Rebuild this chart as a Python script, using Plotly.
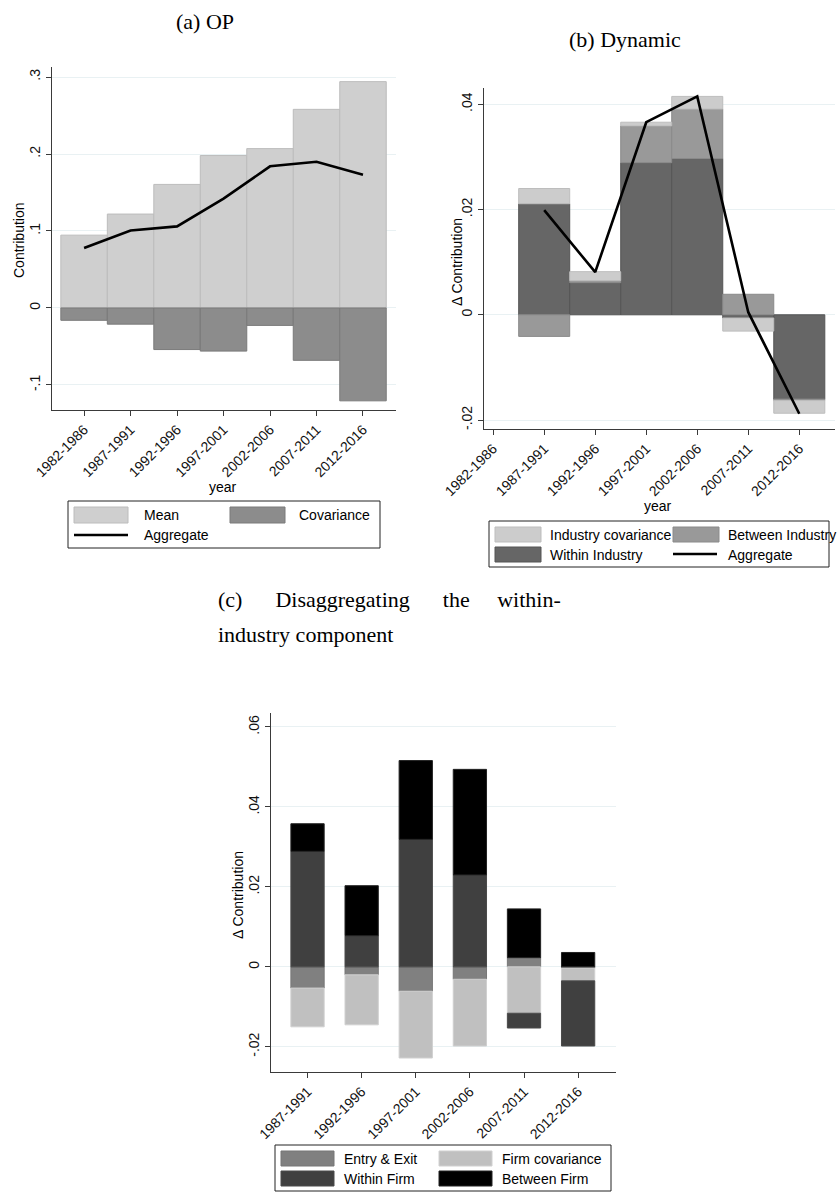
import plotly.graph_objects as go

# ---------------- data ----------------
years = ["1982-1986", "1987-1991", "1992-1996", "1997-2001", "2002-2006", "2007-2011", "2012-2016"]

# (a) OP
mean_a = [0.0946, 0.1220, 0.1605, 0.1980, 0.2070, 0.2580, 0.2940]
cov_a = [-0.0160, -0.0210, -0.0540, -0.0560, -0.0226, -0.0680, -0.1206]
agg_a = [0.0780, 0.1006, 0.1060, 0.1420, 0.1840, 0.1900, 0.1730]
ticks_a = [-0.1, 0, 0.1, 0.2, 0.3]
ticktext_a = ["-.1", "0", ".1", ".2", ".3"]

# (b) Dynamic
years_b = ["1987-1991", "1992-1996", "1997-2001", "2002-2006", "2007-2011", "2012-2016"]
within_b = [0.0211, 0.0061, 0.0289, 0.0297, -0.0006, -0.0160]
between_b = [-0.0041, 0.0004, 0.0070, 0.0094, 0.0039, -0.0003]
indcov_b = [0.0029, 0.0017, 0.0007, 0.0024, -0.0025, -0.0024]
agg_b = [0.0199, 0.0081, 0.0366, 0.0415, 0.0005, -0.0188]
ticks_b = [-0.02, 0, 0.02, 0.04]
ticktext_b = ["-.02", "0", ".02", ".04"]

# (c) Within-industry disaggregation
years_c = ["1987-1991", "1992-1996", "1997-2001", "2002-2006", "2007-2011", "2012-2016"]
entry_c = [-0.0053, -0.0020, -0.0061, -0.0031, 0.0023, -0.0003]
fcov_c = [-0.0097, -0.0125, -0.0167, -0.0167, -0.0116, -0.0032]
within_c = [0.0289, 0.0078, 0.0319, 0.0230, -0.0037, -0.0163]
between_c = [0.0069, 0.0125, 0.0197, 0.0264, 0.0122, 0.0036]
ticks_c = [-0.02, 0, 0.02, 0.04, 0.06]
ticktext_c = ["-.02", "0", ".02", ".04", ".06"]

names_a = ["Mean", "Covariance", "Aggregate"]
names_b = ["Industry covariance", "Between Industry", "Within Industry", "Aggregate"]
names_c = ["Entry & Exit", "Firm covariance", "Within Firm", "Between Firm"]

# ---------------- styling ----------------
W, H = 840, 1192
SANS = "Liberation Sans, Arial, sans-serif"
SERIF = "Liberation Serif, Times New Roman, serif"
GRID = "#e9f1f3"
AXC = "#3a3a3a"

C_MEAN, C_COV = "#cfcfcf", "#8c8c8c"
C_IC, C_BI, C_WI = "#cccccc", "#999999", "#666666"
C_EE, C_FC, C_WF, C_BF = "#808080", "#c0c0c0", "#404040", "#000000"


def px(x):
    return x / W


def py(y):
    return 1 - y / H


fig = go.Figure()

# (a)
fig.add_trace(go.Bar(x=years, y=mean_a, name=names_a[0], width=1, marker=dict(color=C_MEAN, line=dict(color="#bcbcbc", width=1)), xaxis="x", yaxis="y"))
fig.add_trace(go.Bar(x=years, y=cov_a, name=names_a[1], width=1, marker=dict(color=C_COV, line=dict(color="#7a7a7a", width=1)), xaxis="x", yaxis="y"))
fig.add_trace(go.Scatter(x=years, y=agg_a, name=names_a[2], mode="lines", line=dict(color="black", width=2.6), xaxis="x", yaxis="y"))

# (b)
fig.add_trace(go.Bar(x=years_b, y=within_b, name=names_b[2], width=1, marker=dict(color=C_WI, line=dict(color="#555555", width=1)), xaxis="x2", yaxis="y2"))
fig.add_trace(go.Bar(x=years_b, y=between_b, name=names_b[1], width=1, marker=dict(color=C_BI, line=dict(color="#8a8a8a", width=1)), xaxis="x2", yaxis="y2"))
fig.add_trace(go.Bar(x=years_b, y=indcov_b, name=names_b[0], width=1, marker=dict(color=C_IC, line=dict(color="#bdbdbd", width=1)), xaxis="x2", yaxis="y2"))
fig.add_trace(go.Scatter(x=years_b, y=agg_b, name=names_b[3], mode="lines", line=dict(color="black", width=2.6), xaxis="x2", yaxis="y2"))

# (c)
wc = 0.615
fig.add_trace(go.Bar(x=years_c, y=entry_c, name=names_c[0], width=wc, marker=dict(color=C_EE, line=dict(color="#777777", width=1)), xaxis="x3", yaxis="y3"))
fig.add_trace(go.Bar(x=years_c, y=fcov_c, name=names_c[1], width=wc, marker=dict(color=C_FC, line=dict(color="#d0d0d0", width=1)), xaxis="x3", yaxis="y3"))
fig.add_trace(go.Bar(x=years_c, y=within_c, name=names_c[2], width=wc, marker=dict(color=C_WF, line=dict(color="#4a4a4a", width=1)), xaxis="x3", yaxis="y3"))
fig.add_trace(go.Bar(x=years_c, y=between_c, name=names_c[3], width=wc, marker=dict(color=C_BF, line=dict(color="#222222", width=1)), xaxis="x3", yaxis="y3"))

xcommon = dict(type="category", categoryorder="array", showline=True, linecolor=AXC, linewidth=1,
               ticks="outside", ticklen=5, tickcolor=AXC, tickangle=-45, showgrid=False,
               automargin=False, tickfont=dict(family=SANS, size=14, color="#111"), fixedrange=True)
ycommon = dict(showline=True, linecolor=AXC, linewidth=1, ticks="outside", ticklen=5, tickcolor=AXC,
               tickangle=-90, showgrid=True, gridcolor=GRID, gridwidth=1, zeroline=False,
               automargin=False, tickfont=dict(family=SANS, size=14, color="#111"), tickmode="array",
               fixedrange=True)

fig.update_layout(
    width=W, height=H, margin=dict(l=0, r=0, t=0, b=0, autoexpand=False),
    paper_bgcolor="white", plot_bgcolor="white",
    barmode="relative", showlegend=False,
    xaxis=dict(xcommon, domain=[px(52), px(396)], categoryarray=years, range=[-0.69, 6.71], anchor="y"),
    yaxis=dict(ycommon, domain=[py(410), py(67)], range=[-0.1325, 0.313], tickvals=ticks_a, ticktext=ticktext_a, anchor="x"),
    xaxis2=dict(xcommon, domain=[px(484), px(835)], categoryarray=years, range=[-0.18, 6.7], anchor="y2"),
    yaxis2=dict(ycommon, domain=[py(429), py(88)], range=[-0.0217, 0.0431], tickvals=ticks_b, ticktext=ticktext_b, anchor="x2"),
    xaxis3=dict(xcommon, domain=[px(271), px(616)], categoryarray=years_c, range=[-0.675, 5.7], anchor="y3"),
    yaxis3=dict(ycommon, domain=[py(1072), py(713)], range=[-0.0263, 0.0635], tickvals=ticks_c, ticktext=ticktext_c, anchor="x3"),
)

ann = []
shapes = []


def text(x, y, s, size=14, family=SANS, angle=0, xanchor="center"):
    ann.append(dict(x=px(x), y=py(y), xref="paper", yref="paper", text=s, showarrow=False,
                    font=dict(family=family, size=size, color="black"), textangle=angle,
                    xanchor=xanchor, yanchor="middle"))


# titles
text(205, 21, "(a) OP", size=22, family=SERIF)
text(625, 40, "(b) Dynamic", size=22, family=SERIF)
nb = "\u00a0"
text(216, 599, "(c)" + nb * 6 + "Disaggregating" + nb * 6 + "the" + nb * 5 + "within-", size=22, family=SERIF, xanchor="left")
text(216, 634, "industry component", size=22, family=SERIF, xanchor="left")

# axis titles
text(19, 240, "Contribution", angle=-90)
text(223, 487, "year")
text(457, 262, "\u0394 Contribution", angle=-90)
text(658, 506, "year")
text(238, 895, "\u0394 Contribution", angle=-90)


def box(x0, y0, x1, y1):
    shapes.append(dict(type="rect", xref="paper", yref="paper", x0=px(x0), x1=px(x1), y0=py(y1), y1=py(y0),
                       line=dict(color="#222", width=1), fillcolor="rgba(0,0,0,0)"))


def swatch(x0, y0, x1, y1, color, edge):
    shapes.append(dict(type="rect", xref="paper", yref="paper", x0=px(x0), x1=px(x1), y0=py(y1), y1=py(y0),
                       line=dict(color=edge, width=1), fillcolor=color))


def lswatch(x0, x1, y):
    shapes.append(dict(type="line", xref="paper", yref="paper", x0=px(x0), x1=px(x1), y0=py(y), y1=py(y),
                       line=dict(color="black", width=2.6)))


# legend (a)
box(68, 501, 380, 548)
swatch(74, 507, 128, 523, C_MEAN, "#bcbcbc"); text(142, 515, names_a[0], xanchor="left")
swatch(230, 507, 285, 523, C_COV, "#7a7a7a"); text(297, 515, names_a[1], xanchor="left")
lswatch(74, 128, 535); text(142, 535, names_a[2], xanchor="left")

# legend (b)
box(489, 521, 829, 567)
swatch(495, 527, 541, 542, C_IC, "#bdbdbd"); text(548, 534.5, names_b[0], xanchor="left")
swatch(673, 527, 719, 542, C_BI, "#8a8a8a"); text(726, 534.5, names_b[1], xanchor="left")
swatch(495, 547, 541, 562, C_WI, "#555555"); text(548, 554.5, names_b[2], xanchor="left")
lswatch(673, 717, 554); text(726, 554.5, names_b[3], xanchor="left")

# legend (c)
box(275, 1145, 611, 1191)
swatch(281, 1151, 334, 1166, C_EE, "#777777"); text(342, 1158.5, names_c[0], xanchor="left")
swatch(439, 1151, 492, 1166, C_FC, "#d0d0d0"); text(500, 1158.5, names_c[1], xanchor="left")
swatch(281, 1171, 334, 1186, C_WF, "#4a4a4a"); text(342, 1178.5, names_c[2], xanchor="left")
swatch(439, 1171, 492, 1186, C_BF, "#222222"); text(500, 1178.5, names_c[3], xanchor="left")

fig.update_layout(annotations=ann, shapes=shapes)
fig.write_html("out.html")
